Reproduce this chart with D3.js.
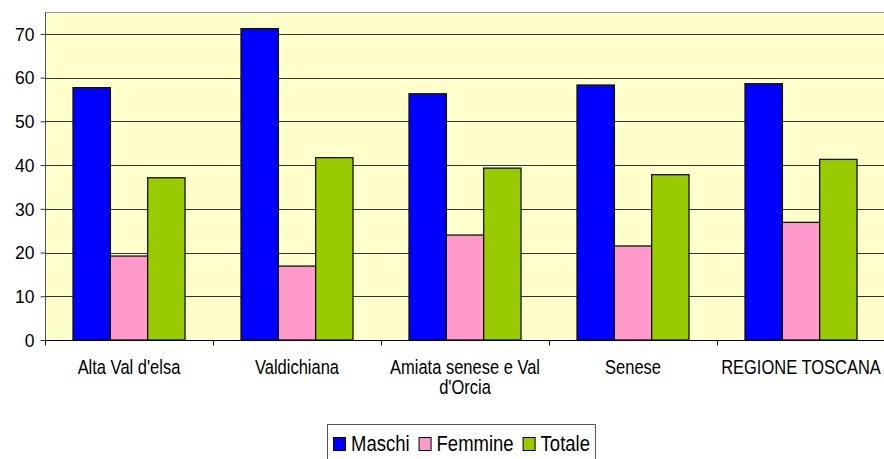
<!DOCTYPE html>
<html>
<head>
<meta charset="utf-8">
<script src="https://cdn.jsdelivr.net/npm/d3@7"></script>
<style>
  body { margin: 0; background: #fff; }
  text { font-family: "Liberation Sans", Arial, sans-serif; fill: #000; }
</style>
</head>
<body>
<div id="chart"></div>
<script>
const width = 884,
    height = 459;

// dati
const categories = ["Alta Val d'elsa", "Valdichiana", "Amiata senese e Val d'Orcia", "Senese", "REGIONE TOSCANA"];
const seriesNames = ["Maschi", "Femmine", "Totale"];
const maschi = [57.7, 71.2, 56.3, 58.3, 58.6];
const femmine = [19.2, 16.9, 24.0, 21.5, 26.9];
const totale = [37.1, 41.7, 39.3, 37.8, 41.3];
const yTicks = [0, 10, 20, 30, 40, 50, 60, 70];

const colors = ["#0000ff", "#ff99cc", "#99cc00"];
const values = [maschi, femmine, totale];

const plot = { left: 45, right: 885, top: 12, bottom: 340 };
const stretch = 1.18; // il testo originale è leggermente allungato in verticale

const svg = d3.select("#chart")
    .append("svg")
    .attr("width", width)
    .attr("height", height);

const x0 = d3.scaleBand()
    .domain(categories)
    .range([plot.left, plot.right]);

const x1 = d3.scaleBand()
    .domain(seriesNames)
    .range([0, x0.bandwidth()])
    .paddingInner(0)
    .paddingOuter(0.75);

const y = d3.scaleLinear()
    .domain([0, 75])
    .range([plot.bottom, plot.top]);

// sfondo area del grafico
svg.append("rect")
    .attr("x", plot.left)
    .attr("y", plot.top)
    .attr("width", plot.right - plot.left)
    .attr("height", plot.bottom - plot.top)
    .style("fill", "#ffffcc");

// bordo superiore
svg.append("line")
    .attr("x1", plot.left).attr("x2", plot.right)
    .attr("y1", plot.top + 0.5).attr("y2", plot.top + 0.5)
    .style("stroke", "#999");

// griglia
svg.append("g")
    .selectAll("line")
    .data(yTicks.filter(d => d > 0))
    .enter()
    .append("line")
    .attr("x1", plot.left)
    .attr("x2", plot.right)
    .attr("y1", d => Math.round(y(d)) + 0.5)
    .attr("y2", d => Math.round(y(d)) + 0.5)
    .style("stroke", "#333")
    .style("stroke-width", 1);

// barre
const groups = svg.append("g")
    .selectAll("g")
    .data(categories)
    .enter()
    .append("g")
    .attr("transform", d => "translate(" + x0(d) + ",0)");

groups.selectAll("rect")
    .data((d, i) => seriesNames.map((s, j) => ({ key: s, value: values[j][i], color: colors[j] })))
    .enter()
    .append("rect")
    .attr("x", d => x1(d.key))
    .attr("y", d => y(d.value))
    .attr("width", x1.bandwidth())
    .attr("height", d => y(0) - y(d.value))
    .style("fill", d => d.color)
    .style("stroke", "#111")
    .style("stroke-width", 1.3);

// asse y
const yAxis = d3.axisLeft(y)
    .tickValues(yTicks)
    .tickSize(5)
    .tickPadding(6);

const gy = svg.append("g")
    .attr("transform", "translate(" + (plot.left + 0.5) + ",0)")
    .call(yAxis);
gy.select(".domain").style("stroke", "#555").attr("d", "M0," + plot.top + "V" + plot.bottom);
gy.selectAll(".tick line").style("stroke", "#333");
gy.selectAll(".tick text")
    .style("font-size", "17.5px")
    .style("font-family", "'Liberation Sans', Arial, sans-serif")
    .attr("dy", "0.36em");

// asse x
const gx = svg.append("g")
    .attr("transform", "translate(0," + (plot.bottom + 0.5) + ")");

gx.append("line")
    .attr("x1", plot.left).attr("x2", plot.right)
    .style("stroke", "#000");

gx.selectAll("line.tick")
    .data(categories)
    .enter()
    .append("line")
    .attr("class", "tick")
    .attr("x1", d => Math.round(x0(d)) + 0.5)
    .attr("x2", d => Math.round(x0(d)) + 0.5)
    .attr("y1", 0)
    .attr("y2", 5)
    .style("stroke", "#000");

const labels = gx.selectAll("text")
    .data(categories)
    .enter()
    .append("text")
    .attr("transform", d => "translate(" + (x0(d) + x0.bandwidth() / 2) + ",33.5) scale(1," + stretch + ")")
    .attr("x", 0)
    .attr("text-anchor", "middle")
    .style("font-size", "16.5px");

labels.each(function (d) {
    wrap(d3.select(this), d, x0.bandwidth());
});

// legenda
const legend = svg.append("g")
    .attr("transform", "translate(327,424)");

const legendBox = legend.append("rect")
    .attr("x", 0.5)
    .attr("y", 0.5)
    .attr("height", 60)
    .style("fill", "#fff")
    .style("stroke", "#555");

let lx = 6;
seriesNames.forEach((s, i) => {
    legend.append("rect")
        .attr("x", lx + 0.5)
        .attr("y", 13.5)
        .attr("width", 12)
        .attr("height", 13)
        .style("fill", colors[i])
        .style("stroke", "#000");
    const t = legend.append("text")
        .attr("transform", "translate(" + (lx + 18) + ",26.5) scale(1," + stretch + ")")
        .style("font-size", "18.5px")
        .text(s);
    lx += 18 + t.node().getComputedTextLength() + 9;
});
legendBox.attr("width", lx - 4);

function wrap(text, str, w) {
    const words = str.split(" ");
    let line = [],
        tspan = text.append("tspan").attr("x", 0).attr("dy", 0);
    words.forEach(word => {
        line.push(word);
        tspan.text(line.join(" "));
        if (tspan.node().getComputedTextLength() > w && line.length > 1) {
            line.pop();
            tspan.text(line.join(" "));
            line = [word];
            tspan = text.append("tspan")
                .attr("x", 0)
                .attr("dy", "1.03em")
                .text(word);
        }
    });
}
</script>
</body>
</html>
